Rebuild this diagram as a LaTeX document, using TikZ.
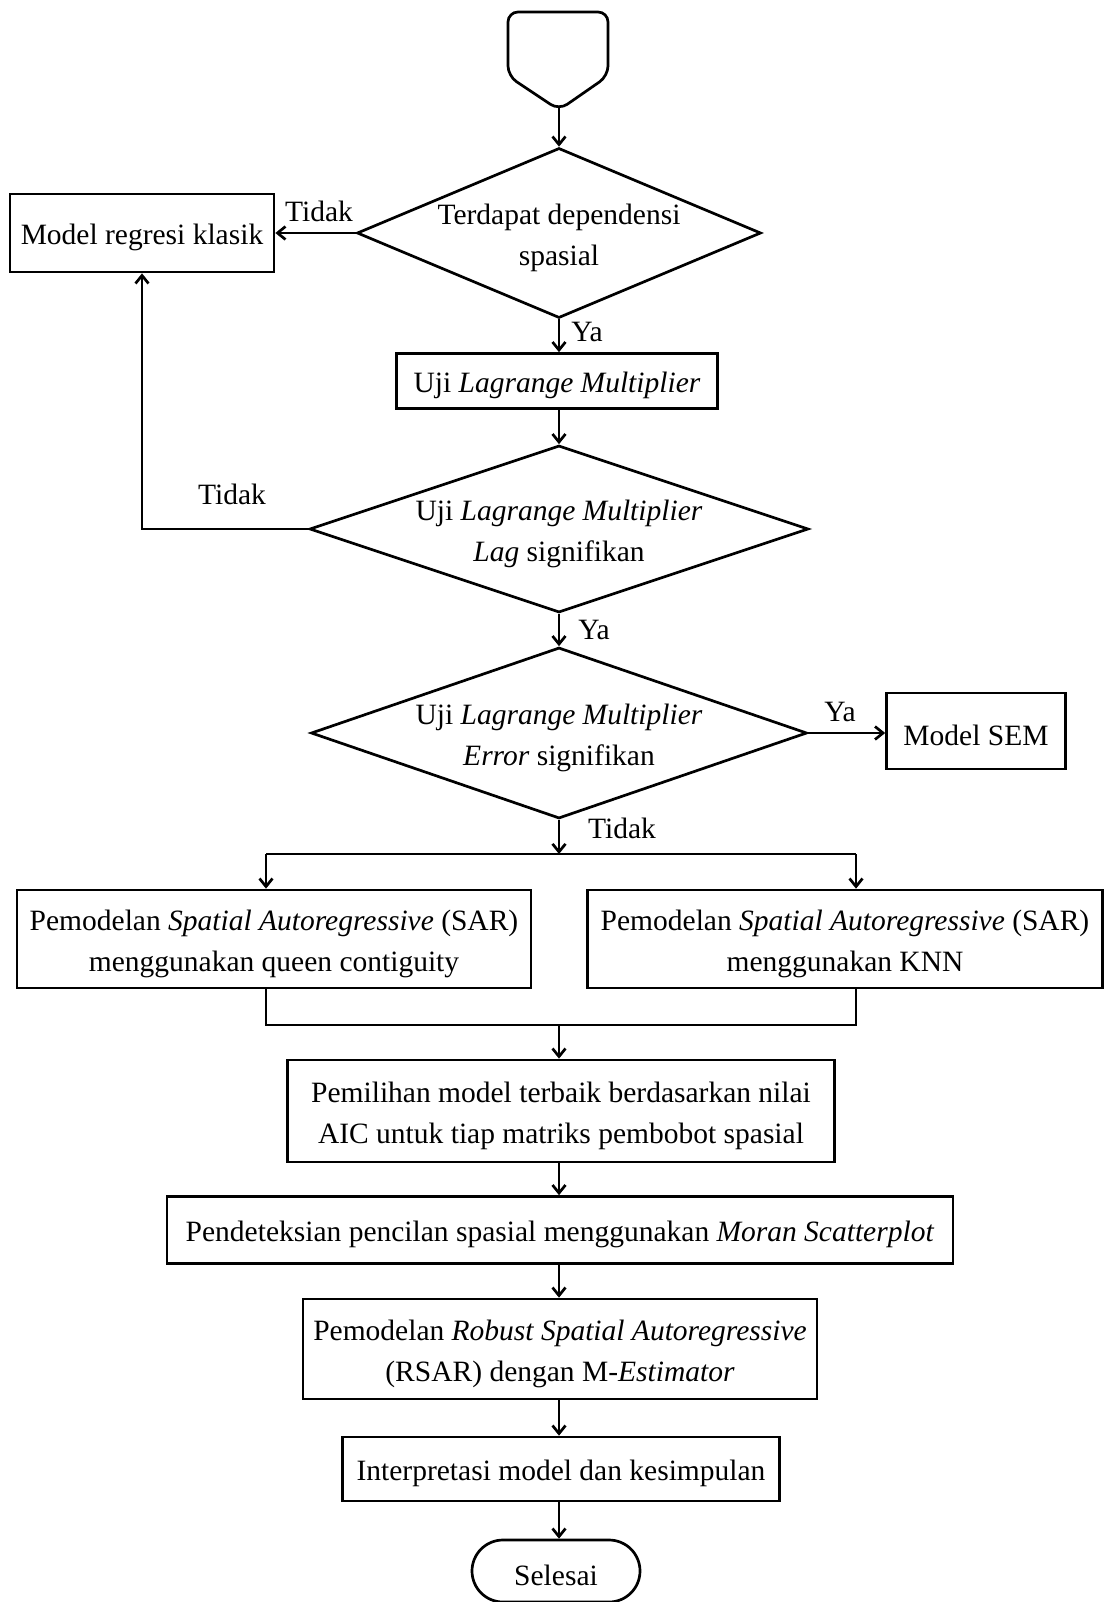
\documentclass[tikz,border=0pt]{standalone}
\usepackage{fontspec}
\setmainfont{Liberation Serif}
\usetikzlibrary{arrows.meta,shapes.geometric}
\newcommand{\tl}{\rule{0pt}{30pt}}
\begin{document}
\begin{tikzpicture}[x=1pt,y=-1pt]
\tikzset{
  con/.style={line width=2.7pt},
  arr/.style={con,-{Straight Barb[length=8pt,width=13pt]}},
  box/.style={draw,con,inner sep=0pt,align=center,font=\fontsize{29.5}{41}\selectfont},
  dia/.style={draw,con,diamond,inner sep=0pt},
  txt/.style={inner sep=0pt,align=center,font=\fontsize{29.5}{41}\selectfont},
  lbl/.style={inner sep=0pt,font=\fontsize{29.5}{41}\selectfont}
}
\useasboundingbox (0,0) rectangle (1107,1602);
% start connector
\draw[con,rounded corners=10pt] (559,12) -- (608,12) -- (608,76) -- (559,110) -- (508,76) -- (508,12) -- cycle;
\coordinate (start) at (559,106);
% decision 1
\node[dia,minimum width=404pt,minimum height=170pt] (d1) at (559,233) {};
\node[txt] (d1t) at (d1.center) {\tl Terdapat dependensi\\spasial};
\node[box,minimum width=264pt,minimum height=78pt] (klasik) at (142,233) {\tl Model regresi klasik};
\node[box,minimum width=321pt,minimum height=55pt] (lm) at (557,381) {\tl Uji \textit{Lagrange Multiplier}};
\node[dia,minimum width=499pt,minimum height=167pt] (d2) at (559,529) {};
\node[txt] (d2t) at (d2.center) {\tl Uji \textit{Lagrange Multiplier}\\\textit{Lag} signifikan};
\node[dia,minimum width=496pt,minimum height=171pt] (d3) at (559,733) {};
\node[txt] (d3t) at (d3.center) {\tl Uji \textit{Lagrange Multiplier}\\\textit{Error} signifikan};
\node[box,minimum width=179pt,minimum height=76pt] (sem) at (976,731) {\tl Model SEM};
\node[box,minimum width=514pt,minimum height=98pt] (sarL) at (274,939) {\tl Pemodelan \textit{Spatial Autoregressive} (SAR)\\menggunakan queen contiguity};
\node[box,minimum width=515pt,minimum height=98pt] (sarR) at (845,939) {\tl Pemodelan \textit{Spatial Autoregressive} (SAR)\\menggunakan KNN};
\node[box,minimum width=547pt,minimum height=102pt] (pem) at (561,1111) {\tl Pemilihan model terbaik berdasarkan nilai\\AIC untuk tiap matriks pembobot spasial};
\node[box,minimum width=786pt,minimum height=67pt] (pend) at (560,1230) {\tl Pendeteksian pencilan spasial menggunakan \textit{Moran Scatterplot}};
\node[box,minimum width=514pt,minimum height=100pt] (rsar) at (560,1349) {\tl Pemodelan \textit{Robust Spatial Autoregressive}\\(RSAR) dengan M-\textit{Estimator}};
\node[box,minimum width=437pt,minimum height=64pt] (interp) at (561,1469) {\tl Interpretasi model dan kesimpulan};
\node[box,rounded corners=31pt,minimum width=168pt,minimum height=62pt] (selesai) at (556,1571) {\tl Selesai};
% labels
\node[lbl] (l1) at (319,211) {Tidak};
\node[lbl] (l2) at (587,332) {Ya};
\node[lbl] (l3) at (232,494) {Tidak};
\node[lbl] (l4) at (594,630) {Ya};
\node[lbl] (l5) at (840,712) {Ya};
\node[lbl] (l6) at (622,828) {Tidak};
% helper coordinates
\coordinate (split) at (559,854);
\coordinate (splitL) at (266,854);
\coordinate (splitR) at (856,854);
\coordinate (mergeL) at (266,1025);
\coordinate (mergeR) at (856,1025);
\coordinate (merge) at (559,1025);
% connectors
\draw[arr] (start) -- (d1.north);
\draw[arr] (d1.west) -- (klasik.east);
\draw[arr] (d1.south) -- (lm.north -| d1.south);
\draw[arr] (lm.south -| d2.north) -- (d2.north);
\draw[arr] (d2.west) -| (klasik.south);
\draw[arr] (d2.south) -- (d3.north);
\draw[arr] (d3.east) -- (sem.west |- d3.east);
\draw[arr] (d3.south) -- (split);
\draw[con] (splitL) -- (splitR);
\draw[arr] (splitL) -- (splitL |- sarL.north);
\draw[arr] (splitR) -- (splitR |- sarR.north);
\draw[con] (splitL |- sarL.south) -- (mergeL) -- (mergeR) -- (splitR |- sarR.south);
\draw[arr] (merge) -- (merge |- pem.north);
\draw[arr] (pem.south -| merge) -- (pend.north -| merge);
\draw[arr] (pend.south -| merge) -- (rsar.north -| merge);
\draw[arr] (rsar.south -| merge) -- (interp.north -| merge);
\draw[arr] (interp.south -| merge) -- (selesai.north -| merge);
\end{tikzpicture}
\end{document}
